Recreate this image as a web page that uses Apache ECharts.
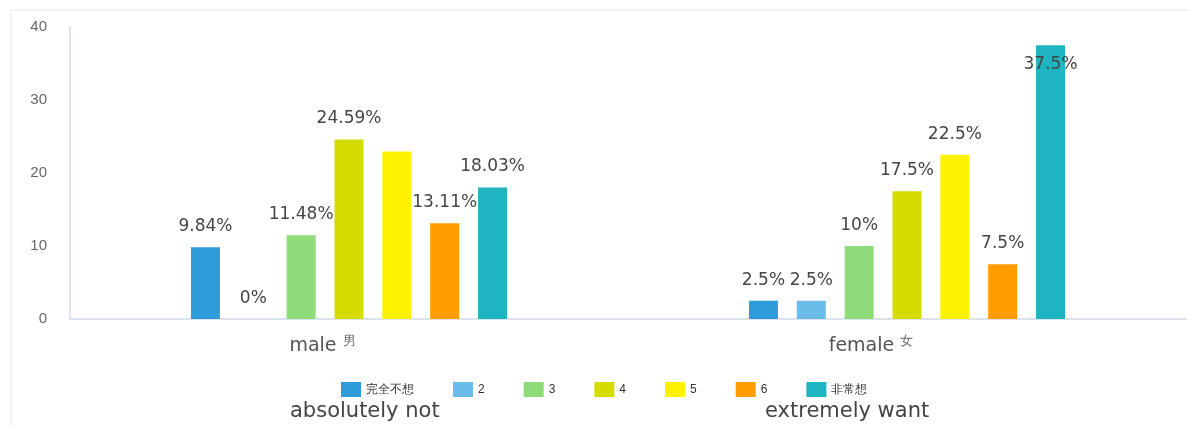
<!DOCTYPE html>
<html>
<head>
<meta charset="utf-8">
<script src="https://cdn.jsdelivr.net/npm/echarts@6/dist/echarts.min.js"></script>
<style>
	html, body { margin: 0; padding: 0; background: #fff; }
	.frame {
		position: absolute;
		left: 10px;
		top: 9px;
		width: 1178px;
		height: 417px;
		border-top: 2px solid #f3f3f3;
		border-left: 2px solid #f3f3f3;
		box-sizing: border-box;
	}
	#chart { position: absolute; left: 0; top: 0; width: 1188px; height: 426px; }
</style>
</head>
<body>
<div class="frame"></div>
<div id="chart"></div>
<script>
// 数据
const categories = ['男', '女']
const categoryEn = ['male', 'female']
const levels = ['完全不想', '2', '3', '4', '5', '6', '非常想']
const colors = ['#2e9cd9', '#6cbcea', '#8fdb79', '#d5dd00', '#fff200', '#ff9c00', '#1fb4c1']
const maleValues = [9.84, 0, 11.48, 24.59, 22.95, 13.11, 18.03]
const femaleValues = [2.5, 2.5, 10, 17.5, 22.5, 7.5, 37.5]
const yTicks = [0, 10, 20, 30, 40]

const enFont = '19px "DejaVu Sans"'
// 量一下英文宽度，好让中文留在类目中心
const measure = (text) => {
	const ctx = document.createElement('canvas').getContext('2d')
	ctx.font = enFont
	return Math.round(ctx.measureText(text).width)
}

const myChart = echarts.init(document.getElementById('chart'))

const series = levels.map((name, i) => ({
	name: name,
	type: 'bar',
	barWidth: 29,
	barGap: '65%',
	itemStyle: { color: colors[i] },
	label: {
		show: true,
		position: 'top',
		distance: 12,
		color: '#454545',
		fontSize: 17,
		fontFamily: 'DejaVu Sans',
		formatter: (p) => p.value + '%',
	},
	data: [
		// 男 5 的标签原图没有显示
		{ value: maleValues[i], label: i === 4 ? { show: false } : {} },
		// 女 非常想 的标签压在柱子里
		{ value: femaleValues[i], label: i === 6 ? { position: 'insideTop', distance: 11 } : {} },
	],
}))

const option = {
	animation: false,
	color: colors,
	grid: { left: 70, right: 2, top: 27, bottom: 107 },
	legend: {
		data: levels,
		icon: 'rect',
		left: 336,
		top: 377,
		itemWidth: 20,
		itemHeight: 15,
		itemGap: 39,
		textStyle: { color: '#333', fontSize: 12 },
	},
	xAxis: {
		type: 'category',
		data: categories,
		axisLine: { lineStyle: { color: '#dce3ef', width: 2 } },
		axisTick: { length: 13, lineStyle: { color: '#dce3ef' } },
		axisLabel: {
			margin: 16,
			formatter: (value, idx) => {
				const sp = idx === 0 ? 's1' : 's2'
				return '{en|' + categoryEn[idx] + ' }{zh|' + value + '}{' + sp + '|}'
			},
			rich: {
				en: { fontSize: 19, color: '#555', fontFamily: 'DejaVu Sans' },
				zh: { fontSize: 13, color: '#666', verticalAlign: 'top', padding: [0, 0, 10, 0] },
				s1: { width: measure('male ') },
				s2: { width: measure('female ') },
			},
		},
	},
	yAxis: {
		type: 'value',
		min: yTicks[0],
		max: yTicks[yTicks.length - 1],
		interval: 10,
		axisLine: { show: true, lineStyle: { color: '#dce3ef', width: 2 } },
		axisTick: { show: false },
		splitLine: { show: false },
		axisLabel: { color: '#666', fontSize: 15, margin: 23 },
	},
	graphic: [
		{ type: 'text', left: 290, top: 401, style: { text: 'absolutely not', fontSize: 21, fill: '#444', fontFamily: 'DejaVu Sans' } },
		{ type: 'text', left: 765, top: 401, style: { text: 'extremely want', fontSize: 21, fill: '#444', fontFamily: 'DejaVu Sans' } },
	],
	series: series,
}

myChart.setOption(option)
</script>
</body>
</html>
